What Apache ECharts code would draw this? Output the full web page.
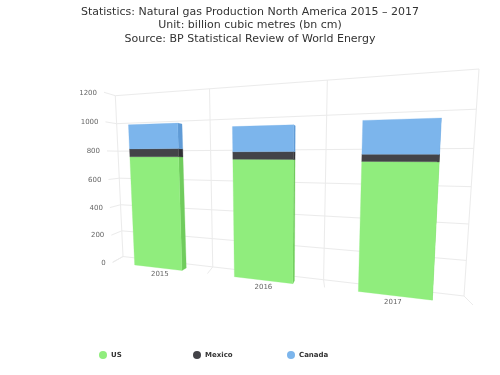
<!DOCTYPE html>
<html>
<head>
<meta charset="utf-8">
<style>
  html, body { margin: 0; padding: 0; background: #fff; }
  #main { width: 500px; height: 375px; }
</style>
<script src="https://cdn.jsdelivr.net/npm/echarts@6/dist/echarts.min.js"></script>
</head>
<body>
<div id="main"></div>
<script>
const categories = ['2015', '2016', '2017']
const usValues = [760, 745, 736]
const mexicoValues = [53, 46, 39]
const canadaValues = [162, 152, 181]
const yTicks = [0, 200, 400, 600, 800, 1000, 1200]
const seriesNames = ['US', 'Mexico', 'Canada']
const seriesColors = ['#90ed7d', '#434348', '#7cb5ec']
const sideColors = ['#70cc5d', '#303034', '#609bd6']

const FONT = '"DejaVu Sans", sans-serif'
const GRID = { left: 100, top: 80, width: 360, height: 200 }
const LINE = '#ebebeb'

// the flat cartesian grid is bent onto the two walls of the 3d box
function makePlane(bl, br, tr, tl) {
  const dx1 = br[0] - tr[0], dx2 = tl[0] - tr[0], sx = bl[0] - br[0] + tr[0] - tl[0]
  const dy1 = br[1] - tr[1], dy2 = tl[1] - tr[1], sy = bl[1] - br[1] + tr[1] - tl[1]
  const den = dx1 * dy2 - dx2 * dy1
  const g = (sx * dy2 - dx2 * sy) / den
  const h = (dx1 * sy - sx * dy1) / den
  const a = br[0] - bl[0] + g * br[0], b = tl[0] - bl[0] + h * tl[0]
  const d = br[1] - bl[1] + g * br[1], e = tl[1] - bl[1] + h * tl[1]
  return (u, v) => {
    const w = g * u + h * v + 1
    return [(a * u + b * v + bl[0]) / w, (d * u + e * v + bl[1]) / w]
  }
}
const backPlane = makePlane([123, 256.5], [464, 296], [479, 69], [115.3, 95.7])
const frontPlane = makePlane([112.7, 262.3], [473, 305], [488, 65], [104, 92.3])

function toUnit(pt) {
  return [(pt[0] - GRID.left) / GRID.width, (GRID.top + GRID.height - pt[1]) / GRID.height]
}

// bar sides run back towards this point
const vanish = [360, 165]
const depth = 0.024
function toBack(p) {
  return [p[0] + (vanish[0] - p[0]) * depth, p[1] + (vanish[1] - p[1]) * depth]
}

function quad(points, fill) {
  return { type: 'polygon', shape: { points: points }, style: { fill: fill, stroke: fill, lineWidth: 0.3 } }
}

function renderBar(seriesIndex) {
  return function (params, api) {
    const cat = api.value(0)
    const half = api.size([1, 0])[0] / 4
    const cx = api.coord([cat, 0])[0]
    const y0 = api.coord([cat, api.value(1)])[1]
    const y1 = api.coord([cat, api.value(2)])[1]
    const lb = frontPlane(...toUnit([cx - half, y0]))
    const rb = frontPlane(...toUnit([cx + half, y0]))
    const rt = frontPlane(...toUnit([cx + half, y1]))
    const lt = frontPlane(...toUnit([cx - half, y1]))
    return {
      type: 'group',
      children: [
        quad([rb, toBack(rb), toBack(rt), rt], sideColors[seriesIndex]),
        quad([lb, rb, rt, lt], seriesColors[seriesIndex])
      ]
    }
  }
}

function stackedData(values, below) {
  return values.map((v, i) => {
    const base = below.reduce((sum, arr) => sum + arr[i], 0)
    return [i, base, base + v]
  })
}

function line(a, b) {
  return {
    type: 'line',
    shape: { x1: a[0], y1: a[1], x2: b[0], y2: b[1] },
    style: { stroke: LINE, lineWidth: 1, fill: null }
  }
}

function renderYTick(params, api) {
  const p = api.coord([0, api.value(0)])
  const v = toUnit([GRID.left, p[1]])[1]
  const front = frontPlane(0, v)
  return {
    type: 'group',
    children: [
      line(backPlane(0, v), backPlane(1, v)),
      line(backPlane(0, v), front),
      {
        type: 'text',
        style: {
          x: front[0] - 7, y: front[1] + 0.5, text: String(api.value(0)),
          align: 'right', verticalAlign: 'middle', fill: '#666', font: '7px ' + FONT
        }
      }
    ]
  }
}

function renderXLine(params, api) {
  const u = params.dataIndex / categories.length
  const children = [line(backPlane(u, 0), backPlane(u, 1)), line(backPlane(u, 0), frontPlane(u, 0))]
  return { type: 'group', children: children }
}

function renderXLabel(params, api) {
  const p = api.coord([api.value(0), 0])
  const u = toUnit(p)[0]
  const front = frontPlane(u, 0)
  const back = backPlane(u, 0)
  return {
    type: 'text',
    style: {
      x: front[0] + (back[0] - front[0]) * 0.27, y: front[1] + 7,
      text: categories[api.value(0)],
      align: 'center', verticalAlign: 'middle', fill: '#666', font: '7px ' + FONT
    }
  }
}

const chart = echarts.init(document.getElementById('main'))
chart.setOption({
  animation: false,
  backgroundColor: '#fff',
  title: {
    text: 'Statistics: Natural gas Production North America 2015 \u2013 2017\nUnit: billion cubic metres (bn cm)\nSource: BP Statistical Review of World Energy',
    left: 245,
    top: 0,
    textAlign: 'center',
    textStyle: { fontFamily: FONT, fontSize: 11, fontWeight: 'normal', color: '#333', lineHeight: 13.7 }
  },
  legend: seriesNames.map((name, i) => ({
    data: [name],
    left: 94 + 94 * i,
    top: 346,
    icon: 'circle',
    itemWidth: 8,
    itemHeight: 8,
    itemGap: 5,
    selectedMode: false,
    textStyle: { fontFamily: FONT, fontSize: 7, fontWeight: 'bold', color: '#333', padding: [0, 0, 0, -1] }
  })),
  grid: GRID,
  xAxis: { type: 'category', data: categories, show: false },
  yAxis: { type: 'value', min: 0, max: 1200, interval: 200, show: false },
  series: [
    {
      type: 'custom', name: 'grid-x', silent: true, z: 1,
      renderItem: renderXLine, data: [[0], [1], [2], [3]], encode: { x: -1, y: -1 }, clip: false
    },
    {
      type: 'custom', name: 'grid-y', silent: true, z: 1,
      renderItem: renderYTick, data: yTicks.map(t => [t]), encode: { y: 0, x: -1 }, clip: false
    },
    {
      type: 'custom', name: 'labels-x', silent: true, z: 1,
      renderItem: renderXLabel, data: categories.map((c, i) => [i]), encode: { x: 0, y: -1 }, clip: false
    },
    {
      type: 'custom', name: 'US', z: 2, clip: false, itemStyle: { color: seriesColors[0] },
      renderItem: renderBar(0), encode: { x: 0, y: [1, 2] },
      data: stackedData(usValues, [])
    },
    {
      type: 'custom', name: 'Mexico', z: 3, clip: false, itemStyle: { color: seriesColors[1] },
      renderItem: renderBar(1), encode: { x: 0, y: [1, 2] },
      data: stackedData(mexicoValues, [usValues])
    },
    {
      type: 'custom', name: 'Canada', z: 4, clip: false, itemStyle: { color: seriesColors[2] },
      renderItem: renderBar(2), encode: { x: 0, y: [1, 2] },
      data: stackedData(canadaValues, [usValues, mexicoValues])
    }
  ]
})
</script>
</body>
</html>
